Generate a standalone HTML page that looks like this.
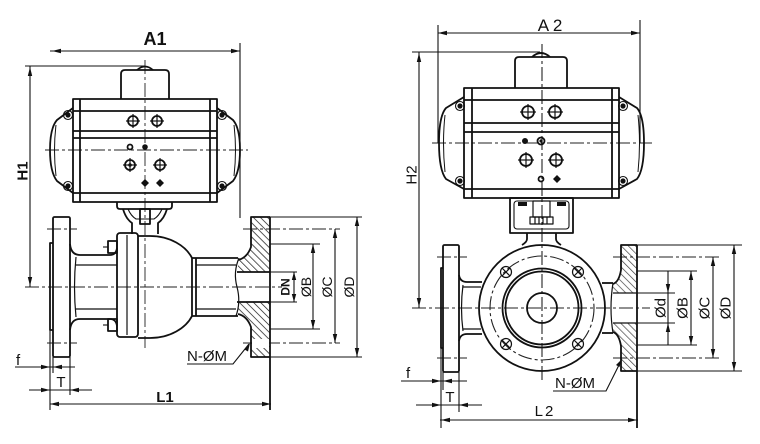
<!DOCTYPE html>
<html><head><meta charset="utf-8"><style>
html,body{margin:0;padding:0;background:#fff;}
svg{display:block}
text{font-family:"Liberation Sans",Arial,sans-serif;fill:#111}
</style></head><body>
<svg width="760" height="444" viewBox="0 0 760 444" xmlns="http://www.w3.org/2000/svg">
<defs>
<pattern id="hatch" width="5" height="5" patternUnits="userSpaceOnUse" patternTransform="rotate(-45)">
<line x1="0" y1="0" x2="0" y2="5" stroke="#111" stroke-width="1.4"/>
</pattern>
</defs>
<rect width="760" height="444" fill="#fff"/>

<!-- ================= LEFT VIEW ================= -->
<g fill="none" stroke="#222" stroke-width="0.9" stroke-dasharray="14 3 3 3">
<line x1="45" y1="150" x2="248" y2="150"/>
<line x1="145" y1="60" x2="145" y2="348"/>
<line x1="25" y1="287" x2="282" y2="287"/>
<line x1="47" y1="229" x2="77" y2="229"/>
<line x1="47" y1="343" x2="77" y2="343"/>
<line x1="243" y1="229" x2="340" y2="229"/>
<line x1="243" y1="343" x2="340" y2="343"/>
</g>

<path d="M251,217 L270,217 L270,272 L238,272 L238,260 Q247,258 251,247 Z" fill="url(#hatch)"/>
<path d="M251,357 L270,357 L270,302 L238,302 L238,314 Q247,316 251,327 Z" fill="url(#hatch)"/>
<rect x="252" y="339" width="17" height="9" fill="#fff"/>

<g fill="none" stroke="#111" stroke-width="1.8" stroke-linejoin="round">
<path d="M121,99 V74 Q121,70 125,70 H165 Q169,70 169,74 V99"/>
<path d="M137,70 Q145,63 153,70"/>
<rect x="73" y="99" width="144" height="103"/>
<line x1="80" y1="99" x2="80" y2="202"/>
<line x1="210" y1="99" x2="210" y2="202"/>
<line x1="73" y1="111" x2="217" y2="111"/>
<line x1="73" y1="131" x2="217" y2="131"/>
<line x1="73" y1="138" x2="217" y2="138"/>
<line x1="73" y1="193" x2="217" y2="193"/>
<path d="M73,108 L57,120 Q50,128 50,150 Q50,172 57,181 L73,193"/>
<path d="M217,108 L233,120 Q240,128 240,150 Q240,172 233,181 L217,193"/>
<path d="M56,125 Q53,150 56,176" stroke-width="1"/>
<path d="M234,125 Q237,150 234,176" stroke-width="1"/>
<circle cx="133" cy="121" r="5"/>
<circle cx="157" cy="121" r="5"/>
<circle cx="130" cy="165" r="5"/>
<circle cx="160" cy="165" r="5"/>
<circle cx="130" cy="147" r="2.5"/>
</g>
<g stroke="#111" stroke-width="1.2">
<line x1="126" y1="121" x2="140" y2="121"/><line x1="133" y1="114" x2="133" y2="128"/>
<line x1="150" y1="121" x2="164" y2="121"/><line x1="157" y1="114" x2="157" y2="128"/>
<line x1="123" y1="165" x2="137" y2="165"/><line x1="130" y1="158" x2="130" y2="172"/>
<line x1="153" y1="165" x2="167" y2="165"/><line x1="160" y1="158" x2="160" y2="172"/>
</g>
<g fill="#111">
<circle cx="145" cy="147" r="2.8"/>
<circle cx="130" cy="165" r="1.8"/>
<polygon points="145,179 149,183 145,187 141,183"/>
<polygon points="160,179 164,183 160,187 156,183"/>
<circle cx="68" cy="115" r="2.6"/><circle cx="68" cy="186" r="2.6"/>
<circle cx="222" cy="115" r="2.6"/><circle cx="222" cy="186" r="2.6"/>
</g>
<g fill="none" stroke="#111" stroke-width="1.1">
<circle cx="68" cy="115" r="4.5"/><circle cx="68" cy="186" r="4.5"/>
<circle cx="222" cy="115" r="4.5"/><circle cx="222" cy="186" r="4.5"/>
</g>

<g fill="none" stroke="#111" stroke-width="1.8" stroke-linejoin="round">
<path d="M117,202 V206 Q117,209 120,209 H169 Q172,209 172,206 V202"/>
<path d="M123,209 Q126,219 132,223 L132,234"/>
<path d="M167,209 Q164,219 158,223 L158,234"/>
<path d="M128,209 Q131,216 136,219 L154,219 Q159,216 162,209" stroke-width="1.1"/>
<rect x="140" y="209" width="10" height="15"/>
<rect x="53" y="217" width="17" height="140" rx="1.5"/>
<path d="M53,243 H50 V330 H53"/>
<path d="M70,244 Q71,255 80,255 L110,255 Q116,255 117,248"/>
<path d="M70,330 Q71,319 80,319 L110,319 Q116,319 117,326"/>
<line x1="76" y1="265" x2="117" y2="265" stroke-width="1.2"/>
<line x1="76" y1="309" x2="117" y2="309" stroke-width="1.2"/>
<path d="M76,257 Q73,287 76,317" stroke-width="1.2"/>
<rect x="117" y="233" width="21" height="104" rx="3"/>
<line x1="127" y1="235" x2="127" y2="335" stroke-width="1.2"/>
<rect x="108" y="241" width="9" height="12"/>
<rect x="108" y="319" width="9" height="12"/>
<line x1="103" y1="247" x2="108" y2="247" stroke-width="1.1"/>
<line x1="103" y1="325" x2="108" y2="325" stroke-width="1.1"/>
<path d="M138,236 L150,236 C170,236 186,246 192,258 L192,316 C186,328 170,338 150,338 L138,338"/>
<line x1="196" y1="258" x2="196" y2="316"/>
<line x1="192" y1="258" x2="238" y2="258"/>
<line x1="192" y1="316" x2="238" y2="316"/>
<line x1="196" y1="265" x2="236" y2="265" stroke-width="1.2"/>
<line x1="196" y1="309" x2="236" y2="309" stroke-width="1.2"/>
<path d="M239,258 Q233,272 237,287 Q241,302 236,316" stroke-width="1.2"/>
<path d="M238,260 Q247,258 251,247 L251,217 L270,217"/>
<path d="M238,314 Q247,316 251,327 L251,357 L270,357"/>
<line x1="237" y1="272" x2="270" y2="272"/>
<line x1="237" y1="302" x2="270" y2="302"/>
<line x1="270" y1="217" x2="270" y2="410"/>
</g>

<g fill="none" stroke="#111" stroke-width="1.1">
<line x1="50" y1="51" x2="240" y2="51"/>
<line x1="240" y1="43" x2="240" y2="218"/>
<line x1="25" y1="66" x2="145" y2="66"/>
<line x1="30" y1="66" x2="30" y2="287"/>
<line x1="270" y1="217" x2="362" y2="217"/>
<line x1="270" y1="244" x2="320" y2="244"/>
<line x1="270" y1="272" x2="297" y2="272"/>
<line x1="270" y1="302" x2="297" y2="302"/>
<line x1="270" y1="329" x2="320" y2="329"/>
<line x1="270" y1="357" x2="362" y2="357"/>
<line x1="294" y1="272" x2="294" y2="302"/>
<line x1="313" y1="244" x2="313" y2="329"/>
<line x1="335" y1="229" x2="335" y2="343"/>
<line x1="357" y1="217" x2="357" y2="357"/>
<line x1="15" y1="367" x2="75" y2="367"/>
<line x1="29" y1="390" x2="92" y2="390"/>
<line x1="50" y1="404" x2="271" y2="404"/>
<line x1="50" y1="330" x2="50" y2="410"/>
<line x1="53" y1="357" x2="53" y2="373"/>
<line x1="70" y1="357" x2="70" y2="395"/>
<path d="M187,364 H233 L249,344"/>
</g>
<g fill="#111">
<polygon points="52,51 61,48.8 61,53.2"/>
<polygon points="240,51 231,48.8 231,53.2"/>
<polygon points="30,67 27.8,76 32.2,76"/>
<polygon points="30,286 27.8,277 32.2,277"/>
<polygon points="294,272 291.8,280 296.2,280"/>
<polygon points="294,302 291.8,294 296.2,294"/>
<polygon points="313,244 310.8,253 315.2,253"/>
<polygon points="313,329 310.8,320 315.2,320"/>
<polygon points="335,229 332.8,238 337.2,238"/>
<polygon points="335,343 332.8,334 337.2,334"/>
<polygon points="357,217 354.8,226 359.2,226"/>
<polygon points="357,357 354.8,348 359.2,348"/>
<polygon points="50,367 41,364.8 41,369.2"/>
<polygon points="53,367 62,364.8 62,369.2"/>
<polygon points="50,390 41,387.8 41,392.2"/>
<polygon points="70,390 79,387.8 79,392.2"/>
<polygon points="50,404 59,401.8 59,406.2"/>
<polygon points="271,404 262,401.8 262,406.2"/>
<polygon points="250,343 244.5,349.5 248,351.5"/>
</g>
<text x="155" y="45" font-size="18" font-weight="bold" text-anchor="middle">A1</text>
<text transform="translate(22,171) rotate(-90)" font-size="15" font-weight="bold" text-anchor="middle" dy="0.36em">H1</text>
<text transform="translate(285,287) rotate(-90)" font-size="12" font-weight="bold" text-anchor="middle" dy="0.36em">DN</text>
<text transform="translate(306,287) rotate(-90)" font-size="14" text-anchor="middle" dy="0.36em">ØB</text>
<text transform="translate(327,287) rotate(-90)" font-size="14" text-anchor="middle" dy="0.36em">ØC</text>
<text transform="translate(349,287) rotate(-90)" font-size="14" text-anchor="middle" dy="0.36em">ØD</text>
<text x="187" y="361" font-size="15">N-ØM</text>
<text x="16" y="365" font-size="15">f</text>
<text x="61" y="387" font-size="15" text-anchor="middle">T</text>
<text x="165" y="402" font-size="15" font-weight="bold" text-anchor="middle">L1</text>

<!-- ================= RIGHT VIEW ================= -->
<g fill="none" stroke="#222" stroke-width="1.1" stroke-dasharray="14 3 3 3">
<line x1="432" y1="143" x2="652" y2="143"/>
<line x1="542" y1="44" x2="542" y2="382"/>
<line x1="412" y1="308" x2="650" y2="308"/>
<line x1="437" y1="257" x2="467" y2="257"/>
<line x1="437" y1="358" x2="467" y2="358"/>
<line x1="613" y1="257" x2="722" y2="257"/>
<line x1="613" y1="358" x2="722" y2="358"/>
<circle cx="542" cy="308" r="52"/>
</g>

<path d="M621,245 L637,245 L637,293 L613,293 L613,284 Q619,282 621,270 Z" fill="url(#hatch)" opacity="0.8"/>
<path d="M621,371 L637,371 L637,323 L613,323 L613,332 Q619,334 621,346 Z" fill="url(#hatch)" opacity="0.8"/>

<g fill="none" stroke="#111" stroke-width="1.8" stroke-linejoin="round">
<path d="M515,88 V61 Q515,57 519,57 H563 Q567,57 567,61 V88"/>
<path d="M532,57 Q541,49 550,57"/>
<rect x="464" y="88" width="155" height="110"/>
<line x1="472" y1="88" x2="472" y2="198"/>
<line x1="612" y1="88" x2="612" y2="198"/>
<line x1="464" y1="100" x2="619" y2="100"/>
<line x1="464" y1="123" x2="619" y2="123"/>
<line x1="464" y1="132" x2="619" y2="132"/>
<line x1="464" y1="189" x2="619" y2="189"/>
<path d="M464,97 L446,108 Q439,116 439,143 Q439,170 446,179 L464,189"/>
<path d="M619,97 L637,108 Q644,116 644,143 Q644,170 637,179 L619,189"/>
<path d="M445,115 Q442,143 445,172" stroke-width="1"/>
<path d="M638,115 Q641,143 638,172" stroke-width="1"/>
<circle cx="528" cy="112" r="6"/>
<circle cx="555" cy="112" r="6"/>
<circle cx="526" cy="160" r="6"/>
<circle cx="556" cy="160" r="6"/>
<circle cx="541" cy="179" r="2.5"/>
<circle cx="541" cy="141" r="3.5"/>
<rect x="510" y="198" width="63" height="35"/>
<rect x="514" y="201" width="55" height="28" rx="3" stroke-width="1.1"/>
<rect x="533" y="201" width="17" height="16" stroke-width="1.2"/>
<rect x="530" y="217" width="23" height="7" stroke-width="1.2"/>
<path d="M527,233 V239 Q527,242 522,245"/>
<path d="M556,233 V239 Q556,242 561,245"/>
<circle cx="542" cy="308" r="63"/>
<circle cx="542" cy="308" r="39.5"/>
<circle cx="542" cy="308" r="36.5"/>
<circle cx="542" cy="308" r="15"/>
<circle cx="506" cy="272" r="5.5" stroke-width="1.2"/>
<circle cx="578" cy="272" r="5.5" stroke-width="1.2"/>
<circle cx="506" cy="344" r="5.5" stroke-width="1.2"/>
<circle cx="578" cy="344" r="5.5" stroke-width="1.2"/>
<rect x="443" y="245" width="16" height="127" rx="1.5"/>
<path d="M443,268 H441 V348 H443"/>
<path d="M459,275 Q460,282 467,282 L482,282"/>
<path d="M459,341 Q460,334 467,334 L482,334"/>
<line x1="463" y1="287" x2="481" y2="287" stroke-width="1.2"/>
<line x1="463" y1="329" x2="481" y2="329" stroke-width="1.2"/>
<path d="M463,285 Q460,308 463,331" stroke-width="1.2"/>
<line x1="602" y1="283" x2="613" y2="283"/>
<line x1="602" y1="333" x2="613" y2="333"/>
<path d="M613,284 Q619,282 621,270 L621,245 L637,245"/>
<path d="M613,332 Q619,334 621,346 L621,371 L637,371"/>
<path d="M613,283 Q609,308 613,333" stroke-width="1.2"/>
<line x1="613" y1="293" x2="637" y2="293" stroke-width="1.2"/>
<line x1="613" y1="323" x2="637" y2="323" stroke-width="1.2"/>
<line x1="637" y1="245" x2="637" y2="428"/>
</g>
<g stroke="#111" stroke-width="1.2">
<line x1="520" y1="112" x2="536" y2="112"/><line x1="528" y1="104" x2="528" y2="120"/>
<line x1="547" y1="112" x2="563" y2="112"/><line x1="555" y1="104" x2="555" y2="120"/>
<line x1="518" y1="160" x2="534" y2="160"/><line x1="526" y1="152" x2="526" y2="168"/>
<line x1="548" y1="160" x2="564" y2="160"/><line x1="556" y1="152" x2="556" y2="168"/>
<line x1="502" y1="268" x2="510" y2="276"/><line x1="510" y1="268" x2="502" y2="276"/>
<line x1="574" y1="268" x2="582" y2="276"/><line x1="582" y1="268" x2="574" y2="276"/>
<line x1="502" y1="340" x2="510" y2="348"/><line x1="510" y1="340" x2="502" y2="348"/>
<line x1="574" y1="340" x2="582" y2="348"/><line x1="582" y1="340" x2="574" y2="348"/>
<line x1="535" y1="217" x2="535" y2="224"/><line x1="539" y1="217" x2="539" y2="224"/>
<line x1="543" y1="217" x2="543" y2="224"/><line x1="547" y1="217" x2="547" y2="224"/>
</g>
<g fill="#111">
<circle cx="525" cy="141" r="3"/>
<circle cx="541" cy="141" r="1.6"/>
<polygon points="557,175 561,179 557,183 553,179"/>
<circle cx="460" cy="106" r="2.6"/><circle cx="460" cy="181" r="2.6"/>
<circle cx="623" cy="106" r="2.6"/><circle cx="623" cy="181" r="2.6"/>
<rect x="518" y="202" width="9" height="4"/>
<rect x="557" y="202" width="9" height="4"/>
</g>
<g fill="none" stroke="#111" stroke-width="1.1">
<circle cx="460" cy="106" r="4.5"/><circle cx="460" cy="181" r="4.5"/>
<circle cx="623" cy="106" r="4.5"/><circle cx="623" cy="181" r="4.5"/>
</g>

<g fill="none" stroke="#111" stroke-width="1.1">
<line x1="438" y1="33" x2="640" y2="33"/>
<line x1="438" y1="25" x2="438" y2="143"/>
<line x1="640" y1="20" x2="640" y2="143"/>
<line x1="412" y1="52" x2="540" y2="52"/>
<line x1="419" y1="52" x2="419" y2="308"/>
<line x1="637" y1="245" x2="742" y2="245"/>
<line x1="637" y1="271" x2="697" y2="271"/>
<line x1="637" y1="293" x2="675" y2="293"/>
<line x1="637" y1="323" x2="675" y2="323"/>
<line x1="637" y1="345" x2="697" y2="345"/>
<line x1="637" y1="371" x2="742" y2="371"/>
<line x1="668" y1="271" x2="668" y2="345"/>
<line x1="691" y1="271" x2="691" y2="345"/>
<line x1="713" y1="257" x2="713" y2="358"/>
<line x1="734" y1="245" x2="734" y2="371"/>
<line x1="401" y1="381" x2="467" y2="381"/>
<line x1="416" y1="405" x2="482" y2="405"/>
<line x1="440" y1="420" x2="638" y2="420"/>
<line x1="441" y1="348" x2="441" y2="428"/>
<line x1="443" y1="372" x2="443" y2="390"/>
<line x1="459" y1="372" x2="459" y2="412"/>
<path d="M553,391 H606 L621,361"/>
</g>
<g fill="#111">
<polygon points="438,33 447,30.8 447,35.2"/>
<polygon points="640,33 631,30.8 631,35.2"/>
<polygon points="419,53 416.8,62 421.2,62"/>
<polygon points="419,307 416.8,298 421.2,298"/>
<polygon points="668,293 665.8,284 670.2,284"/>
<polygon points="668,323 665.8,332 670.2,332"/>
<polygon points="691,271 688.8,280 693.2,280"/>
<polygon points="691,345 688.8,336 693.2,336"/>
<polygon points="713,257 710.8,266 715.2,266"/>
<polygon points="713,358 710.8,349 715.2,349"/>
<polygon points="734,245 731.8,254 736.2,254"/>
<polygon points="734,371 731.8,362 736.2,362"/>
<polygon points="441,381 432,378.8 432,383.2"/>
<polygon points="443,381 452,378.8 452,383.2"/>
<polygon points="441,405 432,402.8 432,407.2"/>
<polygon points="459,405 468,402.8 468,407.2"/>
<polygon points="441,420 450,417.8 450,422.2"/>
<polygon points="637,420 628,417.8 628,422.2"/>
<polygon points="622,359 616,365 619.5,367"/>
</g>
<text x="550" y="31" font-size="17" text-anchor="middle">A 2</text>
<text transform="translate(411,175) rotate(-90)" font-size="15" text-anchor="middle" dy="0.36em">H2</text>
<text transform="translate(660,308) rotate(-90)" font-size="15" text-anchor="middle" dy="0.36em">Ød</text>
<text transform="translate(682,308) rotate(-90)" font-size="15" text-anchor="middle" dy="0.36em">ØB</text>
<text transform="translate(704,308) rotate(-90)" font-size="15" text-anchor="middle" dy="0.36em">ØC</text>
<text transform="translate(725,308) rotate(-90)" font-size="15" text-anchor="middle" dy="0.36em">ØD</text>
<text x="555" y="388" font-size="15">N-ØM</text>
<text x="406" y="378" font-size="15">f</text>
<text x="450" y="402" font-size="15" text-anchor="middle">T</text>
<text x="545" y="416" font-size="15" text-anchor="middle" letter-spacing="2">L2</text>
</svg>
</body></html>
